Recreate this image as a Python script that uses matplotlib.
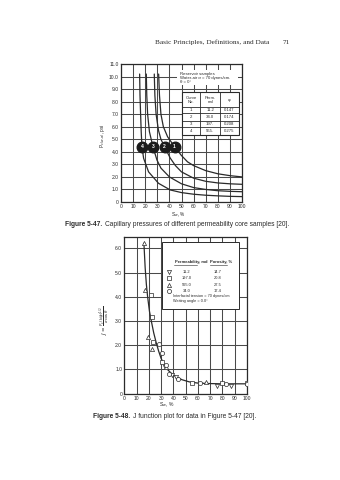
import matplotlib
matplotlib.use("Agg")
import matplotlib.pyplot as plt
from matplotlib.patches import Rectangle

# ── Fig 5-47: capillary pressure curves, Sw (%) vs Pc (psi) ─────────────────
curve_ids = ["1", "2", "3", "4"]
perm_md   = ["11.2", "34.0", "197.", "565."]
porosity  = ["0.147", "0.174", "0.208", "0.275"]

sw_c1 = [31.1, 31.8, 33.0, 35.0, 38.5, 44.3, 50, 55, 60, 70, 80, 90, 100]
pc_c1 = [10.2, 8.5, 7.0, 6.0, 5.2, 4.4, 3.7, 3.2, 2.9, 2.5, 2.25, 2.1, 2.0]
sw_c2 = [27.5, 28.0, 29.0, 31.0, 33.0, 36.0, 40.7, 45, 50, 60, 70, 80, 90, 100]
pc_c2 = [10.2, 8.5, 7.0, 5.7, 5.0, 4.4, 3.5, 2.9, 2.4, 1.9, 1.65, 1.52, 1.45, 1.41]
sw_c3 = [20.9, 21.3, 22.0, 23.5, 26.4, 29.7, 33, 40, 50, 60, 70, 80, 90, 100]
pc_c3 = [10.2, 8.5, 7.0, 5.6, 4.4, 3.35, 2.7, 2.0, 1.45, 1.15, 1.0, 0.9, 0.85, 0.82]
sw_c4 = [15.4, 15.7, 16.2, 16.7, 17.3, 18.7, 22.8, 31, 40.7, 50, 60, 70, 80, 90, 100]
pc_c4 = [10.2, 8.5, 7.0, 5.6, 4.4, 3.48, 2.4, 1.49, 0.96, 0.75, 0.62, 0.54, 0.49, 0.45, 0.43]

# curve number badges sit at Pc = 4.4 psi
badge_sw = [44.3, 36.0, 26.4, 17.3]
badge_pc = 4.4

# ── Fig 5-48: J function, Sw (%) vs J ──────────────────────────────────────
j_sw = [16, 17, 18, 19, 20.5, 22, 24, 26, 28, 30, 32.5, 35, 38, 42, 47, 53, 60, 70, 80, 90, 100]
j_val = [6.2, 5.2, 4.5, 4.0, 3.4, 3.0, 2.5, 2.1, 1.75, 1.45, 1.2, 1.0, 0.85, 0.7, 0.57,
         0.48, 0.43, 0.41, 0.40, 0.40, 0.40]

# measured points per core
pts_112_sw = [33.0, 38.6, 42.0, 75.3, 87.0]
pts_112_j  = [1.10, 0.76, 0.68, 0.31, 0.31]
pts_197_sw = [21.8, 22.3, 23.6, 30.4, 55.0, 79.4, 100]
pts_197_j  = [4.07, 3.15, 2.14, 1.30, 0.45, 0.45, 0.42]
pts_565_sw = [16.0, 16.9, 19.6, 22.8, 33.7, 66.3]
pts_565_j  = [6.20, 4.28, 2.32, 1.84, 1.10, 0.49]
pts_340_sw = [28.5, 30.4, 33.7, 36.4, 44.0, 62.0, 82.6, 100]
pts_340_j  = [2.05, 1.66, 1.18, 0.80, 0.60, 0.42, 0.39, 0.40]

legend_perm = ["11.2", "197.0", "565.0", "34.0"]
legend_poro = ["14.7", "20.8", "27.5", "17.4"]
legend_mark = ["v", "s", "^", "o"]

INK = "#2a2a2a"
GRID = "#4a4a4a"
SANS = "Liberation Sans"
SERIF = "Liberation Serif"

W, H = 340, 480
fig = plt.figure(figsize=(W / 100, H / 100), dpi=100, facecolor="white")


def box(left, top, right, bottom):
    return [left / W, 1 - bottom / H, (right - left) / W, (bottom - top) / H]


def style_axes(ax):
    for s in ax.spines.values():
        s.set_color(INK)
        s.set_linewidth(0.9)
    ax.tick_params(length=0, pad=1.5, labelsize=3.6, colors=INK)
    for lab in ax.get_xticklabels() + ax.get_yticklabels():
        lab.set_fontfamily(SANS)
    ax.grid(True, color=GRID, lw=0.75)
    ax.set_axisbelow(True)


def caption(x_px, y_px, head, body, size=4.8):
    # bold figure number, then the plain caption right after it
    t = fig.text(x_px / W, 1 - y_px / H, head, fontsize=size, family=SANS,
                 fontweight="bold", color=INK, va="center")
    bb = t.get_window_extent(renderer=fig.canvas.get_renderer())
    fig.text((bb.x1 + 2.5) / W, 1 - y_px / H, body, fontsize=size, family=SANS,
             color=INK, va="center")


# page header
fig.text(155 / W, 1 - 42 / H, "Basic Principles, Definitions, and Data",
         family=SERIF, fontsize=5.2, color=INK, va="center")
fig.text(283 / W, 1 - 42 / H, "71", family=SERIF, fontsize=5.2, color=INK, va="center")

# ── top chart ──────────────────────────────────────────────────────────────
ax1 = fig.add_axes(box(121, 64, 242, 202))
ax1.set_xlim(0, 100)
ax1.set_ylim(0, 11)
ax1.set_xticks(range(0, 101, 10))
ax1.set_yticks(range(0, 12))
ax1.set_yticklabels(["0"] + [f"{v:.1f}" for v in range(1, 12)])
style_axes(ax1)

for sw, pc in [(sw_c1, pc_c1), (sw_c2, pc_c2), (sw_c3, pc_c3), (sw_c4, pc_c4)]:
    ax1.plot(sw, pc, color=INK, lw=0.9, solid_capstyle="round")

for cid, sw in zip(curve_ids, badge_sw):
    ax1.plot(sw, badge_pc, "o", ms=7.6, color="#1b1b1b", zorder=5)
    ax1.text(sw, badge_pc, cid, color="white", fontsize=3.6, fontweight="bold",
             ha="center", va="center", family=SANS, zorder=6)

# note block and property table
ax1.add_patch(Rectangle((46.5, 9.3), 50.5, 1.25, facecolor="white", edgecolor="none", zorder=3))
ax1.text(49, 10.4, "Reservoir samples\nWater-air σ = 70 dynes/cm.\nθ = 0°",
         fontsize=3.1, va="top", ha="left", family=SANS, color=INK, linespacing=1.15, zorder=4)

tx0, tx1, tx2, tx3 = 50.4, 65.5, 82.0, 97.2
ty = [8.74, 7.6, 7.07, 6.49, 5.96, 5.34]
ax1.add_patch(Rectangle((tx0, ty[-1]), tx3 - tx0, ty[0] - ty[-1], facecolor="white",
                        edgecolor=INK, lw=0.8, zorder=3))
for xv in (tx1, tx2):
    ax1.plot([xv, xv], [ty[-1], ty[0]], color=INK, lw=0.6, zorder=4)
for yv in ty[1:-1]:
    ax1.plot([tx0, tx3], [yv, yv], color=INK, lw=0.6, zorder=4)
hy = (ty[0] + ty[1]) / 2
for xc, txt in [((tx0 + tx1) / 2, "Curve\nNo."), ((tx1 + tx2) / 2, "Perm.\nmd"),
                ((tx2 + tx3) / 2, "φ")]:
    ax1.text(xc, hy, txt, fontsize=3.1, ha="center", va="center", family=SANS,
             color=INK, linespacing=1.0, zorder=5)
for i, (cid, k, phi) in enumerate(zip(curve_ids, perm_md, porosity)):
    yc = (ty[i + 1] + ty[i + 2]) / 2
    for xc, txt in [((tx0 + tx1) / 2, cid), ((tx1 + tx2) / 2, k), ((tx2 + tx3) / 2, phi)]:
        ax1.text(xc, yc, txt, fontsize=3.1, ha="center", va="center", family=SANS,
                 color=INK, zorder=5)

fig.text(103 / W, 1 - 136 / H, r"P$_{c(w,a)}$, psi", rotation=90, fontsize=3.4,
         family=SANS, color=INK, ha="center", va="center")
fig.text(178 / W, 1 - 214.5 / H, r"S$_w$, %", fontsize=3.4, family=SANS, color=INK,
         ha="center", va="center")

caption(65, 225, "Figure 5-47.",
        "Capillary pressures of different permeability core samples [20].")

# ── bottom chart ───────────────────────────────────────────────────────────
ax2 = fig.add_axes(box(124.3, 236.7, 247, 393.5))
ax2.set_xlim(0, 100)
ax2.set_ylim(0, 6.48)
ax2.set_xticks(range(0, 101, 10))
ax2.set_yticks(range(0, 7))
ax2.set_yticklabels(["0"] + [f"{v:.1f}" for v in range(1, 7)])
style_axes(ax2)

ax2.plot(j_sw, j_val, color=INK, lw=0.9, zorder=3)
mk = dict(mfc="white", mec=INK, mew=0.5, ms=3.0, ls="none", zorder=4)
ax2.plot(pts_112_sw, pts_112_j, "v", **mk)
ax2.plot(pts_197_sw, pts_197_j, "s", **mk)
ax2.plot(pts_565_sw, pts_565_j, "^", **mk)
ax2.plot(pts_340_sw, pts_340_j, "o", **mk)

# legend panel
ax2.add_patch(Rectangle((30.4, 3.49), 62.8, 2.78, facecolor="white", edgecolor=INK,
                        lw=0.7, zorder=5))
ax2.text(54.5, 5.42, "Permeability, md", fontsize=3.0, ha="center", va="center",
         family=SANS, fontweight="bold", color=INK, zorder=6)
ax2.text(79.0, 5.42, "Porosity, %", fontsize=3.0, ha="center", va="center",
         family=SANS, fontweight="bold", color=INK, zorder=6)
ax2.plot([40.5, 59.5], [5.32, 5.32], color=INK, lw=0.4, zorder=6)
ax2.plot([69.5, 84.0], [5.32, 5.32], color=INK, lw=0.4, zorder=6)
row_y = [5.02, 4.79, 4.50, 4.24]
for m, k, p, yv in zip(legend_mark, legend_perm, legend_poro, row_y):
    ax2.plot(36.4, yv, m, mfc="white", mec=INK, mew=0.5, ms=3.0, zorder=6)
    ax2.text(51, yv, k, fontsize=2.9, ha="center", va="center", family=SANS,
             color=INK, zorder=6)
    ax2.text(76, yv, p, fontsize=2.9, ha="center", va="center", family=SANS,
             color=INK, zorder=6)
ax2.text(39.9, 3.93, "Interfacial tension = 70 dynes/cm\nWetting angle = 0.0°",
         fontsize=2.8, ha="left", va="center", family=SANS, color=INK,
         linespacing=1.2, zorder=6)

fig.text(105 / W, 1 - 320 / H,
         r"$J=\frac{P_c\,(k/\phi)^{1/2}}{\sigma\,\cos\theta}$",
         rotation=90, fontsize=4.0, color=INK, ha="center", va="center")
fig.text(167 / W, 1 - 404.5 / H, r"S$_w$, %", fontsize=3.6, family=SANS, color=INK,
         ha="center", va="center")

caption(93, 416, "Figure 5-48.", "J function plot for data in Figure 5-47 [20].")

fig.savefig("out.png", dpi=100, facecolor="white")
